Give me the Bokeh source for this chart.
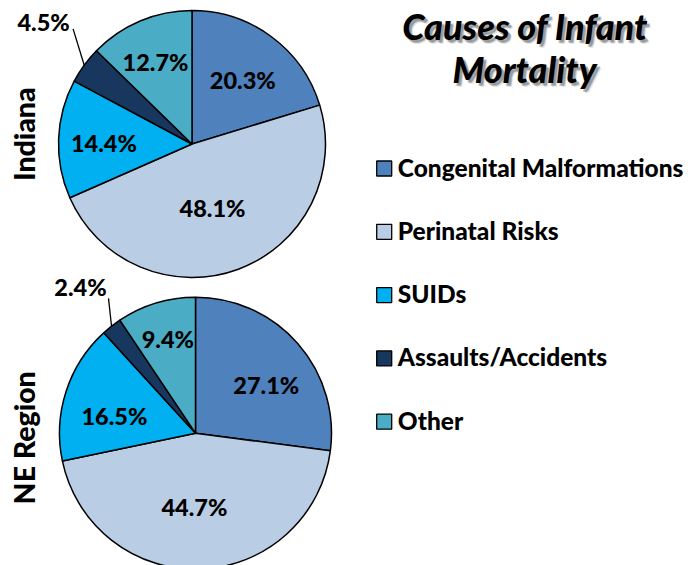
import math
from bokeh.plotting import figure
from bokeh.models import Range1d, ColumnDataSource
from bokeh.core.properties import value
from bokeh.embed import file_html
from bokeh.resources import INLINE

# ---------------- data ----------------
categories = ["Congenital Malformations", "Perinatal Risks", "SUIDs",
              "Assaults/Accidents", "Other"]
indiana = [20.3, 48.1, 14.4, 4.5, 12.7]
ne_region = [27.1, 44.7, 16.5, 2.4, 9.4]
pie_names = ["Indiana", "NE Region"]
title_lines = ["Causes of Infant", "Mortality"]

# ---------------- style ----------------
colors = ["#4F81BD", "#B9CDE5", "#00B0F0", "#17375E", "#4BACC6"]
FONT = "Lato Heavy, Lato"
W, H = 690, 565
PAGE_H = 565

def Y(py):
    return PAGE_H - py

p = figure(width=W, height=H, x_range=Range1d(0, W), y_range=Range1d(PAGE_H - H, PAGE_H),
           output_backend="svg", toolbar_location=None, min_border=0)
p.axis.visible = False
p.grid.visible = False
p.outline_line_color = None
p.background_fill_color = "white"
p.border_fill_color = "white"

# per-pie layout: center, radius, label radial factor and angle tweak (deg)
pies = [
    dict(vals=indiana, cx=191.5, cy=Y(143.5), r=133.5,
         lf=[0.61, 0.50, 0.66, 1.44, 0.67], lda=[-2, -2.4, 1.8, -3.3, 1.2],
         lead=(1.24, -7.9), name_pos=(23.3, 133.7)),
    dict(vals=ne_region, cx=195.0, cy=Y(432.7), r=136.0,
         lf=[0.63, 0.544, 0.61, 1.37, 0.72], lda=[-7, -3, 5.6, 0, -0.5],
         lead=(1.18, -5.3), name_pos=(23.3, 437.3)),
]

for k, pie in enumerate(pies):
    vals = pie["vals"]
    total = sum(vals)
    ang = math.pi / 2
    starts, ends = [], []
    for v in vals:
        a2 = ang - v / total * 2 * math.pi
        starts.append(a2)
        ends.append(ang)
        ang = a2
    src = ColumnDataSource(dict(start=starts, end=ends, color=colors,
                                cat=categories, val=vals))
    p.wedge(x=pie["cx"], y=pie["cy"], radius=pie["r"], start_angle="start",
            end_angle="end", direction="anticlock", fill_color="color",
            line_color="black", line_width=1.5, source=src)

    lx, ly, lt = [], [], []
    for i, v in enumerate(vals):
        mid = (starts[i] + ends[i]) / 2 + math.radians(pie["lda"][i])
        rr = pie["lf"][i] * pie["r"]
        lx.append(pie["cx"] + rr * math.cos(mid))
        ly.append(pie["cy"] + rr * math.sin(mid))
        lt.append(f"{v:.1f}%")
    p.text(x=lx, y=ly, text=lt, text_align="center", text_baseline="middle",
           text_font=value(FONT), text_font_style="bold", text_font_size="23.5px",
           text_color="black")

    # leader line for the small slice (index 3)
    mid = (starts[3] + ends[3]) / 2
    x0 = pie["cx"] + pie["r"] * math.cos(mid)
    y0 = pie["cy"] + pie["r"] * math.sin(mid)
    f, da = pie["lead"]
    m2 = mid + math.radians(da)
    x1 = pie["cx"] + f * pie["r"] * math.cos(m2)
    y1 = pie["cy"] + f * pie["r"] * math.sin(m2)
    p.line(x=[x0, x1], y=[y0, y1], line_color="black", line_width=1.3)

    nx, ny = pie["name_pos"]
    p.text(x=[nx], y=[Y(ny)], text=[pie_names[k]], angle=math.pi / 2,
           text_align="center", text_baseline="middle", text_font=value(FONT),
           text_font_style="bold", text_font_size="28.5px", text_color="black")

# ---------------- title with soft shadow ----------------
tx = [524.5, 524.0]
ty = [Y(25), Y(68)]
for dx, dy, a in [(4, -4, 0.10), (3, -3, 0.15), (2, -3, 0.15), (3, -2, 0.12)]:
    p.text(x=[x + dx for x in tx], y=[y + dy for y in ty], text=title_lines,
           text_align="center", text_baseline="middle", text_font=value(FONT),
           text_font_style="bold italic", text_font_size="36px",
           text_color="black", text_alpha=a)
p.text(x=tx, y=ty, text=title_lines, text_align="center", text_baseline="middle",
       text_font=value(FONT), text_font_style="bold italic",
       text_font_size="36px", text_color="black")

# ---------------- legend ----------------
leg_y = [Y(168 + 63.3 * i) for i in range(len(categories))]
p.rect(x=[383.7] * len(categories), y=leg_y, width=15, height=15,
       fill_color=colors, line_color="black", line_width=1.3)
p.text(x=[397.3] * len(categories), y=[y + 1.5 for y in leg_y], text=categories,
       text_align="left", text_baseline="middle", text_font=value(FONT),
       text_font_style="bold", text_font_size="24.5px", text_color="black")

open("out.html", "w").write(file_html(p, INLINE))
